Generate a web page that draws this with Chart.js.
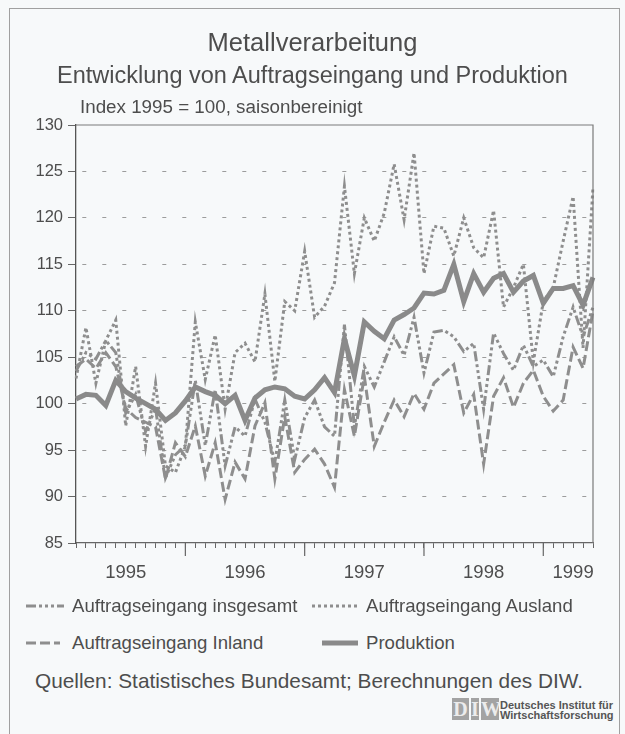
<!DOCTYPE html>
<html><head><meta charset="utf-8">
<script src="https://cdn.jsdelivr.net/npm/chart.js@4.4.1/dist/chart.umd.min.js"></script>
<style>
html,body{margin:0;padding:0;background:#f7f9fa;}
#wrap{position:relative;width:625px;height:734px;overflow:hidden;background:#f7f9fa;font-family:"Liberation Sans",Arial,Helvetica,sans-serif;color:#4d4d4d;}
#frame{position:absolute;left:9px;top:8px;width:611px;height:760px;border:1px solid #a0a0a0;box-sizing:border-box;}
.t{position:absolute;white-space:nowrap;}
#title{left:0;width:625px;text-align:center;top:27px;font-size:25.5px;line-height:30px;}
#sub{left:0;width:625px;text-align:center;top:61px;font-size:23.5px;line-height:28px;}
#idx{left:80px;top:96px;font-size:18.8px;line-height:22px;}
.leg{font-size:18.6px;line-height:24px;}
.leg svg{position:absolute;top:0;}
#src{left:35px;top:669px;font-size:20.8px;line-height:24px;}
#logo{position:absolute;left:452px;top:698px;height:22px;}
.lb{position:absolute;top:0;height:22px;background:#a3a3a3;color:#ececec;font:bold 20px "Liberation Serif",serif;line-height:22px;text-align:center;}
#lt{position:absolute;left:500px;top:700px;font:bold 11px "Liberation Sans",Arial,sans-serif;line-height:10px;color:#555;}
canvas{position:absolute;left:0;top:0;}
</style></head>
<body><div id="wrap">
<div id="frame"></div>
<canvas id="c" width="625" height="600"></canvas>
<div class="t" id="title">Metallverarbeitung</div>
<div class="t" id="sub">Entwicklung von Auftragseingang und Produktion</div>
<div class="t" id="idx">Index 1995 = 100, saisonbereinigt</div>
<div class="t leg" style="left:24px;top:594px;width:300px;height:24px;">
 <svg width="40" height="24" style="left:0"><line x1="2" y1="12" x2="40" y2="12" stroke="#8e8e8e" stroke-width="3" stroke-dasharray="10,3,3,3,3,3,3,3"/></svg>
 <span style="position:absolute;left:48px;">Auftragseingang insgesamt</span></div>
<div class="t leg" style="left:310px;top:594px;width:300px;height:24px;">
 <svg width="50" height="24" style="left:0"><line x1="2" y1="12" x2="48" y2="12" stroke="#8e8e8e" stroke-width="3" stroke-dasharray="3,3"/></svg>
 <span style="position:absolute;left:56px;">Auftragseingang Ausland</span></div>
<div class="t leg" style="left:24px;top:631px;width:300px;height:24px;">
 <svg width="40" height="24" style="left:0"><line x1="2" y1="12" x2="36" y2="12" stroke="#8e8e8e" stroke-width="3" stroke-dasharray="10,4"/></svg>
 <span style="position:absolute;left:48px;">Auftragseingang Inland</span></div>
<div class="t leg" style="left:310px;top:631px;width:300px;height:24px;">
 <svg width="50" height="24" style="left:0"><line x1="12" y1="12" x2="48" y2="12" stroke="#8a8a8a" stroke-width="5"/></svg>
 <span style="position:absolute;left:56px;">Produktion</span></div>
<div class="t" id="src">Quellen: Statistisches Bundesamt; Berechnungen des DIW.</div>
<div id="logo">
 <div class="lb" style="left:0;width:17px;">D</div>
 <div class="lb" style="left:19px;width:8px;">I</div>
 <div class="lb" style="left:29px;width:18px;">W</div>
</div>
<div id="lt">Deutsches Institut für<br>Wirtschaftsforschung</div>
</div>
<script>
const years = ['1995', '1996', '1997', '1998', '1999'];
const monthsPerYear = [12, 12, 12, 12, 5];
const yearLabelIndex = [5, 17, 29, 41, 50];
const majorTickIndex = [11, 23, 35, 47];
const yMin = 85, yMax = 130, yStep = 5;

const auftragInsgesamt = [
  103.5, 105.5, 104.8, 106.8, 105.5, 99.0, 101.0, 97.0, 99.5, 92.0, 94.5, 95.5,
  102.5, 95.5, 101.5, 93.3, 97.5, 96.5, 100.5, 98.0, 93.7, 100.4, 94.0, 98.5,
  100.4, 97.5, 96.5, 108.5, 97.5, 104.0, 101.8, 104.5, 107.2, 105.2, 109.3, 103.3,
  107.7, 107.9, 107.2, 105.6, 106.5, 99.4, 107.6, 105.4, 103.6, 106.3, 104.0, 104.7,
  102.9, 107.2, 110.4, 107.2, 110.4
];
const auftragAusland = [
  102.7, 108.2, 102.2, 106.8, 109.0, 97.6, 104.0, 95.4, 102.2, 93.3, 92.6, 95.4,
  108.8, 102.6, 107.4, 99.4, 105.5, 106.5, 104.5, 111.8, 102.4, 111.0, 110.0, 116.4,
  109.3, 110.5, 113.0, 123.4, 114.0, 120.0, 117.5, 120.5, 125.8, 119.8, 127.0, 114.0,
  119.1, 118.9, 115.9, 120.0, 116.8, 115.7, 120.8, 110.4, 112.5, 115.0, 104.5, 111.0,
  112.5, 117.5, 122.3, 106.0, 123.3
];
const auftragInland = [
  104.0, 104.8, 103.8, 105.5, 104.0, 99.5, 98.5, 98.0, 97.5, 91.9, 95.8, 94.3,
  97.6, 92.2, 95.8, 89.7, 93.7, 91.9, 97.6, 100.1, 91.9, 98.6, 92.6, 94.0,
  95.1, 93.5, 91.0, 101.5, 96.5, 102.9, 95.4, 98.0, 100.4, 98.6, 101.1, 99.4,
  102.2, 103.2, 104.2, 99.0, 101.0, 93.5, 100.8, 102.8, 99.6, 102.2, 103.6, 100.8,
  99.2, 100.4, 106.1, 103.8, 110.0
];
const produktion = [
  100.5, 101.0, 100.9, 99.8, 102.5, 101.3, 100.6, 100.0, 99.4, 98.2, 99.0, 100.3,
  101.8, 101.3, 100.9, 100.0, 100.9, 98.2, 100.6, 101.5, 101.8, 101.6, 100.8, 100.5,
  101.5, 102.8, 101.2, 107.0, 103.0, 108.8, 107.8, 107.0, 109.0, 109.6, 110.3, 111.9,
  111.8, 112.2, 115.0, 111.0, 114.0, 112.0, 113.5, 114.0, 112.0, 113.2, 113.8, 110.8,
  112.4, 112.4, 112.7, 110.6, 113.6
];

const labels = [];
years.forEach((y, k) => { for (let m = 1; m <= monthsPerYear[k]; m++) labels.push(y + '-' + m); });

const grey = '#8e8e8e';
const framePlugin = {
  id: 'frame',
  afterDraw(chart) {
    const { ctx, chartArea: a, scales: { x } } = chart;
    ctx.save();
    ctx.strokeStyle = '#7a7a7a';
    ctx.lineWidth = 1.2;
    ctx.beginPath();
    ctx.moveTo(a.left, a.top);
    ctx.lineTo(a.right, a.top);
    ctx.lineTo(a.right, a.bottom);
    ctx.stroke();
    ctx.strokeStyle = '#666';
    majorTickIndex.forEach(i => {
      const px = x.getPixelForValue(i);
      ctx.beginPath();
      ctx.moveTo(px, a.bottom);
      ctx.lineTo(px, a.bottom + 13);
      ctx.stroke();
    });
    ctx.restore();
  }
};

new Chart(document.getElementById('c'), {
  type: 'line',
  data: {
    labels: labels,
    datasets: [
      { label: 'Auftragseingang insgesamt', data: auftragInsgesamt, borderColor: grey, borderWidth: 3, borderDash: [10, 3, 3, 3, 3, 3, 3, 3], pointRadius: 0, order: 2 },
      { label: 'Auftragseingang Ausland', data: auftragAusland, borderColor: grey, borderWidth: 3, borderDash: [3, 3], pointRadius: 0, order: 1 },
      { label: 'Auftragseingang Inland', data: auftragInland, borderColor: grey, borderWidth: 3, borderDash: [10, 4], pointRadius: 0, order: 3 },
      { label: 'Produktion', data: produktion, borderColor: '#8a8a8a', borderWidth: 5, pointRadius: 0, order: 0 }
    ]
  },
  options: {
    responsive: false,
    animation: false,
    devicePixelRatio: 1,
    layout: { padding: { left: 16, right: 32, top: 125, bottom: 12 } },
    plugins: { legend: { display: false }, title: { display: false }, tooltip: { enabled: false } },
    elements: { line: { tension: 0, fill: false } },
    scales: {
      x: {
        type: 'category',
        offset: false,
        afterFit: s => { s.height = 45; },
        grid: { drawOnChartArea: false, drawTicks: true, tickLength: 5, color: '#666', tickColor: '#666', offset: false },
        border: { display: true, color: '#666', width: 1.2 },
        ticks: {
          autoSkip: false, maxRotation: 0, minRotation: 0, padding: 14,
          color: '#4d4d4d', font: { family: '"Liberation Sans", Arial, sans-serif', size: 18.5 },
          callback: (v, i) => { const k = yearLabelIndex.indexOf(i); return k >= 0 ? years[k] : ''; }
        }
      },
      y: {
        min: yMin, max: yMax,
        afterFit: s => { s.width = 60; },
        grid: {
          color: c => (c.tick && (c.tick.value === yMin || c.tick.value === yMax)) ? 'rgba(0,0,0,0)' : '#9c9c9c',
          lineWidth: 1, tickLength: 8, tickColor: '#666'
        },
        border: { display: true, color: '#555', width: 1.3, dash: [4, 16], dashOffset: -6 },
        ticks: { stepSize: yStep, padding: 5, color: '#4d4d4d', font: { family: '"Liberation Sans", Arial, sans-serif', size: 16.5 } }
      }
    }
  },
  plugins: [framePlugin]
});
</script>
</body></html>
